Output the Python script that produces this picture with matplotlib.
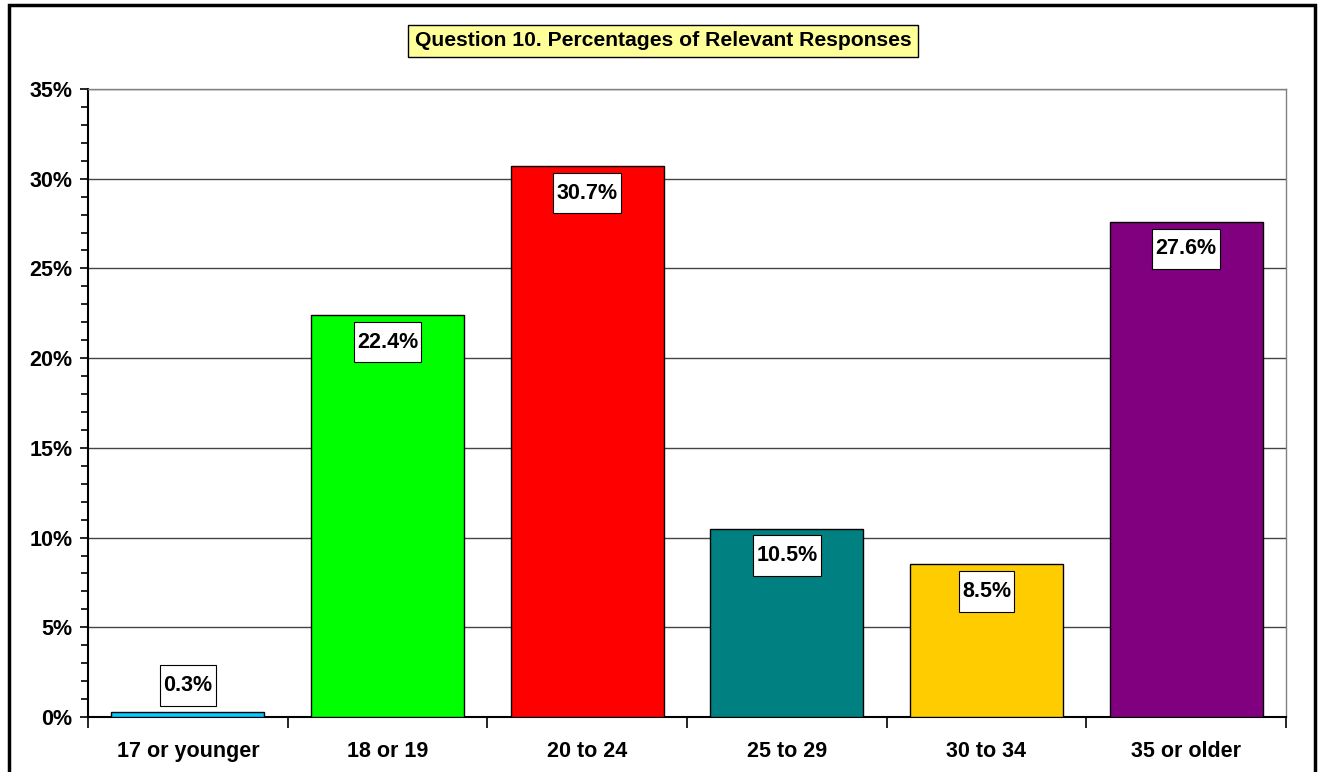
import matplotlib
matplotlib.use('Agg')
import matplotlib.pyplot as plt
from matplotlib.patches import Rectangle
from matplotlib.path import Path
from matplotlib.ticker import MultipleLocator, FixedLocator

plt.rcParams['font.family'] = ['Liberation Sans', 'DejaVu Sans']
plt.rcParams['font.weight'] = 'bold'

categories = ['17 or younger', '18 or 19', '20 to 24', '25 to 29', '30 to 34', '35 or older']
percentages = [0.3, 22.4, 30.7, 10.5, 8.5, 27.6]
colors = ['#00CCFF', '#00FF00', '#FF0000', '#008080', '#FFCC00', '#800080']
title = 'Question 10. Percentages of Relevant Responses'
fs = 15.5


def label_box(x0, y0, width, height, mutation_size):
    # taller than wide padding, like the Excel data labels
    px = 0.15 * mutation_size
    py = 0.45 * mutation_size
    x0, y0 = x0 - px, y0 - py
    x1, y1 = x0 + width + 2 * px, y0 + height + 2 * py
    return Path([(x0, y0), (x1, y0), (x1, y1), (x0, y1), (x0, y0)], closed=True)


fig = plt.figure(figsize=(13.19, 7.72), dpi=100)
ax = fig.add_axes([88 / 1319, 55 / 772, (1286 - 88) / 1319, (717 - 89) / 772])

x = list(range(len(categories)))
ax.bar(x, percentages, width=0.766, color=colors, edgecolor='black', linewidth=1, zorder=3)

ax.set_xlim(-0.5, len(categories) - 0.5)
ax.set_ylim(0, 35)

ax.yaxis.set_minor_locator(MultipleLocator(1))
ax.set_yticks(range(0, 36, 5))
ax.set_yticklabels(['%d%%' % v for v in range(0, 36, 5)], fontsize=fs, fontweight='bold')
ax.tick_params(axis='y', which='major', direction='out', length=6, width=1.2, pad=5)
ax.tick_params(axis='y', which='minor', direction='out', length=5, width=1.2)
ax.grid(axis='y', which='major', color='#444444', linewidth=1, zorder=0)

ax.set_xticks(x)
ax.set_xticklabels(categories, fontsize=fs, fontweight='bold')
ax.tick_params(axis='x', which='major', length=0, pad=17)
ax.xaxis.set_minor_locator(FixedLocator([i - 0.5 for i in range(len(categories) + 1)]))
ax.tick_params(axis='x', which='minor', direction='out', length=8, width=1.2)

for side in ['top', 'right']:
    ax.spines[side].set_color('#808080')
    ax.spines[side].set_linewidth(1)
ax.spines['left'].set_linewidth(1.5)
ax.spines['bottom'].set_linewidth(1.5)

for xi, v in zip(x, percentages):
    off = -27 if v > 3 else 26
    ax.annotate('%.1f%%' % v, (xi, v), textcoords='offset pixels', xytext=(0, off),
                ha='center', va='center', fontsize=fs, fontweight='bold', zorder=5,
                bbox=dict(boxstyle=label_box, facecolor='white', edgecolor='black', linewidth=0.8))

fig.text(663 / 1319, 1 - 41 / 772, title, ha='center', va='center', fontsize=15.2, fontweight='bold',
         bbox=dict(boxstyle='square,pad=0.3', facecolor='#FFFF99', edgecolor='black', linewidth=1))

# outer chart frame
fig.patches.append(Rectangle((9 / 1319, -0.05), (1315 - 9) / 1319, 1.05 - 5 / 772,
                             transform=fig.transFigure, fill=False, edgecolor='black',
                             linewidth=2.5, clip_on=False))

fig.savefig('out.png', dpi=100)
